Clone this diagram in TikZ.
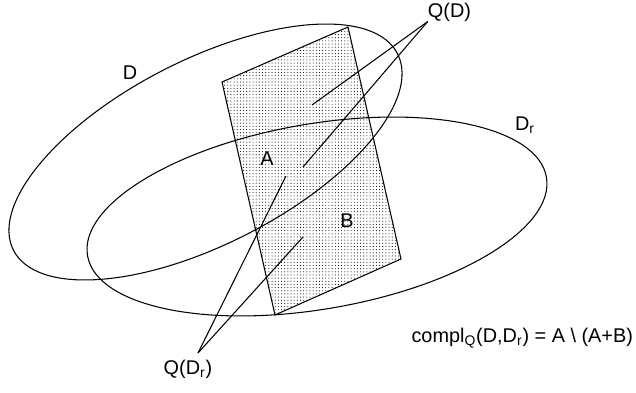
\documentclass[tikz,border=0pt]{standalone}
\usepackage{fontspec}
\setmainfont{Liberation Sans}
\definecolor{FigInk}{HTML}{000000}
\usepackage{tikz}
\usetikzlibrary{patterns}
\pgfdeclarepatternformonly{fine dots}{\pgfpoint{-0.5pt}{-0.5pt}}{\pgfpoint{0.5pt}{0.5pt}}{\pgfpoint{1.8pt}{1.8pt}}{\pgfpathcircle{\pgfpointorigin}{0.3pt}\pgfusepath{fill}}
\tikzset{
    region/.style={
        draw=FigInk,
        line width=0.6pt
    },
    patch/.style={
        draw=FigInk,
        line width=0.6pt,
        pattern=fine dots,
        pattern color=FigInk
    },
    pointer/.style={
        draw=FigInk,
        line width=0.6pt
    },
    lbl/.style={
        text=FigInk,
        font=\fontsize{11.3pt}{13.5pt}\selectfont,
        inner sep=#1
    },
    lbl/.default=1pt
}

\begin{document}
\begin{tikzpicture}
    \useasboundingbox (0,0) rectangle (12.72,7.84);
    % query region
    \draw[patch] (4.44,6.20) -- (6.96,7.30) -- (8.02,2.66) -- (5.50,1.54) -- cycle;
    % D and D_r
    \draw[region, rotate around={27.1:(4.11,4.80)}] (4.11,4.80) ellipse (4.314 and 1.842);
    \draw[region, rotate around={9.7:(6.34,3.51)}] (6.34,3.51) ellipse (4.656 and 1.854);

    % labels
    \node[lbl] (d) at (2.60,6.38) {D};
    \node[lbl] (dr) at (10.50,5.34) {D\textsubscript{r}};
    \node[lbl] (a) at (5.34,4.66) {A};
    \node[lbl] (b) at (6.94,3.42) {B};
    \node[lbl=0pt] (qd) at (8.99,7.60) {Q(D)};
    \node[lbl=4pt, anchor=north] (qdr) at (3.76,0.78) {Q(D\textsubscript{r})};
    \node[lbl, anchor=east] (compl) at (12.70,1.08) {compl\textsubscript{Q}(D,D\textsubscript{r}) = A \textbackslash\ (A+B)};

    % pointers
    \coordinate (qd1) at (6.24,5.74);
    \coordinate (qd2) at (6.06,4.50);
    \coordinate (qdr1) at (5.72,4.32);
    \coordinate (qdr2) at (6.06,3.10);
    \draw[pointer] (qd.south west) -- (qd1);
    \draw[pointer] (qd.south west) -- (qd2);
    \draw[pointer] ([xshift=2mm]qdr.north) -- (qdr1);
    \draw[pointer] ([xshift=2mm]qdr.north) -- (qdr2);
\end{tikzpicture}
\end{document}
